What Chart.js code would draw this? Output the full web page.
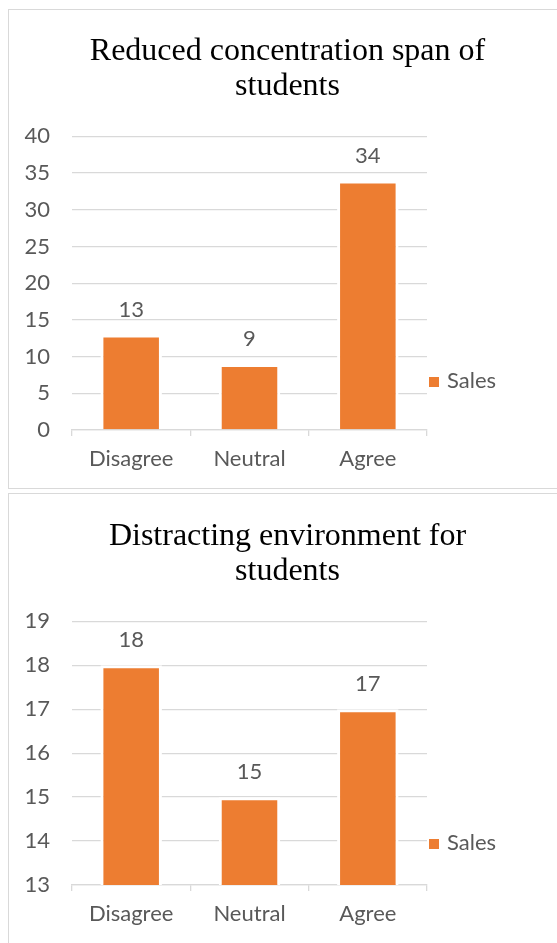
<!DOCTYPE html>
<html>
<head>
<meta charset="utf-8">
<script src="https://cdn.jsdelivr.net/npm/chart.js@4.4.1/dist/chart.umd.min.js"></script>
<style>
  body { margin: 0; width: 557px; height: 943px; overflow: hidden; position: relative; background: #fff; }
  .panel { position: absolute; left: 8px; width: 600px; border: 1px solid #d9d9d9; }
  .wrap { position: absolute; left: 9px; width: 557px; }
  .legend { position: absolute; left: 429px; font: 22px Lato, sans-serif; color: #595959; line-height: 24px; }
  .legend span { display: inline-block; width: 10px; height: 10px; background: #ED7D31; margin-right: 8px; vertical-align: 1px; }
</style>
</head>
<body>
<div class="panel" style="top:9px; height:478px"></div>
<div class="panel" style="top:493px; height:480px"></div>

<div class="wrap" style="top:1px; height:487px"><canvas id="first" width="557" height="487"></canvas></div>
<div class="wrap" style="top:486px; height:457px"><canvas id="second" width="557" height="457"></canvas></div>

<div class="legend" style="top:368px"><span></span>Sales</div>
<div class="legend" style="top:830px"><span></span>Sales</div>

<script>
const categories = ['Disagree', 'Neutral', 'Agree'];
const seriesName = 'Sales';

const spanTitle = ['Reduced concentration span of', 'students'];
const spanValues = [13, 9, 34];
const spanTicks = [0, 5, 10, 15, 20, 25, 30, 35, 40];

const distractTitle = ['Distracting environment for', 'students'];
const distractValues = [18, 15, 17];
const distractTicks = [13, 14, 15, 16, 17, 18, 19];

const orange = '#ED7D31';
const gridGray = '#d9d9d9';
const textGray = '#595959';

// value labels above each bar
const barLabels = {
  id: 'barLabels',
  afterDatasetsDraw(chart) {
    const c = chart.ctx;
    const meta = chart.getDatasetMeta(0);
    const vals = chart.data.datasets[0].data;
    c.save();
    c.font = '22px Lato, sans-serif';
    c.fillStyle = textGray;
    c.textAlign = 'center';
    c.textBaseline = 'middle';
    meta.data.forEach(function (bar, i) {
      c.fillText(vals[i], bar.x, chart.scales.y.getPixelForValue(vals[i]) - 25);
    });
    c.restore();
  }
};

function makeChart(id, title, values, ticks) {
  const ctx = document.getElementById(id);
  return new Chart(ctx, {
    type: 'bar',
    data: {
      labels: categories,
      datasets: [{
        label: seriesName,
        data: values,
        backgroundColor: orange,
        borderColor: '#ffffff',
        borderWidth: 3,
        borderSkipped: 'start',
        barPercentage: 0.52,
        categoryPercentage: 1,
        clip: 0
      }]
    },
    options: {
      responsive: false,
      animation: false,
      layout: { padding: 0 },
      plugins: {
        legend: { display: false },
        tooltip: { enabled: false },
        title: {
          display: true,
          text: title,
          color: '#000',
          font: { family: '"Liberation Serif", "Times New Roman", serif', size: 32, weight: 'normal', lineHeight: 1.1 },
          padding: { top: 33, bottom: 32 }
        }
      },
      scales: {
        x: {
          grid: { display: true, drawOnChartArea: false, drawTicks: true, tickLength: 6, color: gridGray, lineWidth: 1.3, offset: true },
          border: { display: true, color: gridGray, width: 1.3 },
          ticks: { color: textGray, font: { family: 'Lato', size: 22 }, padding: 10, maxRotation: 0 },
          afterFit(s) { s.height = 58; }
        },
        y: {
          min: ticks[0],
          max: ticks[ticks.length - 1],
          ticks: { stepSize: ticks[1] - ticks[0], color: textGray, font: { family: 'Lato', size: 22 }, padding: 22 },
          grid: { color: gridGray, lineWidth: 1.3, drawTicks: false },
          border: { display: false },
          afterFit(s) { s.width = 63; }
        },
        // empty space on the right where the legend sits
        yRight: {
          position: 'right',
          display: true,
          grid: { display: false },
          border: { display: false },
          ticks: { display: false },
          afterFit(s) { s.width = 139; }
        }
      }
    },
    plugins: [barLabels]
  });
}

makeChart('first', spanTitle, spanValues, spanTicks);
makeChart('second', distractTitle, distractValues, distractTicks);
</script>
</body>
</html>
